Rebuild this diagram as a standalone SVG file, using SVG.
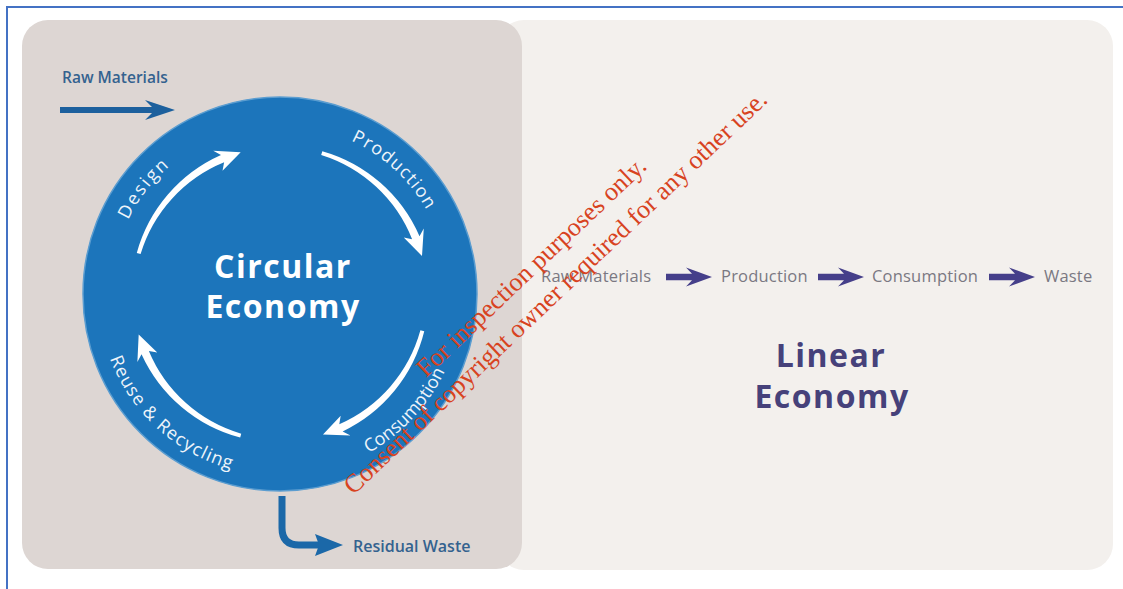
<svg xmlns="http://www.w3.org/2000/svg" width="1123" height="589" viewBox="0 0 1123 589">
  <style>
    .sans { font-family: "Open Sans", "Liberation Sans", sans-serif; font-weight: 600; }
    .title { font-family: "Open Sans", "Liberation Sans", sans-serif; font-weight: bold; font-size: 32px; letter-spacing: 1.5px; text-anchor: middle; }
    .clabel { font-family: "Open Sans", "Liberation Sans", sans-serif; font-size: 18px; fill: #eef4fa; }
    .lin { font-family: "Open Sans", "Liberation Sans", sans-serif; font-size: 16.5px; fill: #7a7882; letter-spacing: 0.2px; }
    .wm { font-family: "Liberation Serif", "Times New Roman", serif; font-size: 26px; fill: #d8431f; text-anchor: middle; }
  </style>
  <defs>
    <path id="carrow" d="M130.32,-72.24 A151,151 0 0 1 140.01,56.56 L148.47,54.04 L127.95,72.38 L127.80,46.51 L132.59,53.57 A144,144 0 0 0 126.82,-70.30 Z" fill="#ffffff"/>
    <path id="larrow" d="M0,-3.2 H26 L20,-9.5 L46,0 L20,9.5 L26,3.2 H0 Z" fill="#453f8a"/>
    <path id="p-design" d="M123.86,358.68 A169,169 0 0 1 302.06,126.45" fill="none"/>
    <path id="p-production" d="M229.18,132.82 A169,169 0 0 1 445.0,330.58" fill="none"/>
    <path id="p-consumption" d="M239.05,471.34 A182,182 0 0 0 454.05,240.78" fill="none"/>
    <path id="p-reuse" d="M102.31,254.61 A182,182 0 0 0 334.73,467.57" fill="none"/>
  </defs>

  <rect x="0" y="0" width="1123" height="589" fill="#ffffff"/>
  <path d="M7,589 V7 H1123" fill="none" stroke="#4472c4" stroke-width="2"/>

  <g id="panel-linear">
    <rect x="498" y="20" width="615" height="550" rx="26" fill="#f3f0ed"/>
  </g>
  <g id="panel-circular">
    <rect x="22" y="20" width="500" height="549" rx="26" fill="#ddd6d3"/>
  </g>

  <g id="circular-economy">
    <circle cx="280" cy="294" r="197" fill="#1c75bb" stroke="#5b9dd0" stroke-width="1.5"/>
    <text class="title" x="283" y="278" fill="#ffffff">Circular</text>
    <text class="title" x="283" y="318" fill="#ffffff">Economy</text>
  </g>

  <g id="label-design"><text class="clabel"><textPath href="#p-design" startOffset="50%" text-anchor="middle" textLength="68" lengthAdjust="spacing">Design</textPath></text></g>
  <g id="label-production"><text class="clabel"><textPath href="#p-production" startOffset="50%" text-anchor="middle" textLength="104" lengthAdjust="spacing">Production</textPath></text></g>
  <g id="label-consumption"><text class="clabel"><textPath href="#p-consumption" startOffset="50%" text-anchor="middle" textLength="114" lengthAdjust="spacing">Consumption</textPath></text></g>
  <g id="label-reuse"><text class="clabel"><textPath href="#p-reuse" startOffset="50%" text-anchor="middle" textLength="170" lengthAdjust="spacing">Reuse &amp; Recycling</textPath></text></g>

  <g id="raw-materials">
    <text class="sans" x="62" y="83" font-size="15.5" fill="#34628f">Raw Materials</text>
  </g>
  <g id="residual-waste">
    <text class="sans" x="353" y="552" font-size="16" fill="#34628f">Residual Waste</text>
  </g>

  <g id="linear-economy">
    <text class="lin" x="541" y="282">Raw Materials</text>
    <text class="lin" x="721" y="282">Production</text>
    <text class="lin" x="872" y="282">Consumption</text>
    <text class="lin" x="1044" y="282">Waste</text>
    <text class="title" x="831" y="367" fill="#46417a">Linear</text>
    <text class="title" x="832" y="408" fill="#46417a">Economy</text>
  </g>

  <g id="connectors">
    <path d="M60,107 H152 L145,100 L175,110 L145,120 L152,113 H60 Z" fill="#1c609d"/>
    <path d="M282,496 V528 Q282,545 299,545 H320" fill="none" stroke="#1b68a8" stroke-width="7"/>
    <path d="M315,534 L343,545 L315,556 L319,545 Z" fill="#1b68a8"/>
    <use href="#carrow" transform="translate(280,294) rotate(225)"/>
    <use href="#carrow" transform="translate(280,294) rotate(315.5)"/>
    <use href="#carrow" transform="translate(280,294) rotate(43.5)"/>
    <use href="#carrow" transform="translate(280,294) rotate(134.5)"/>
    <use href="#larrow" transform="translate(666,277)"/>
    <use href="#larrow" transform="translate(818,277)"/>
    <use href="#larrow" transform="translate(989,277)"/>
  </g>

  <g id="watermark" transform="translate(537,273) rotate(-43.5)">
    <text class="wm" x="0" y="0">For inspection purposes only.</text>
    <text class="wm" x="0" y="35">Consent of copyright owner required for any other use.</text>
  </g>
</svg>
